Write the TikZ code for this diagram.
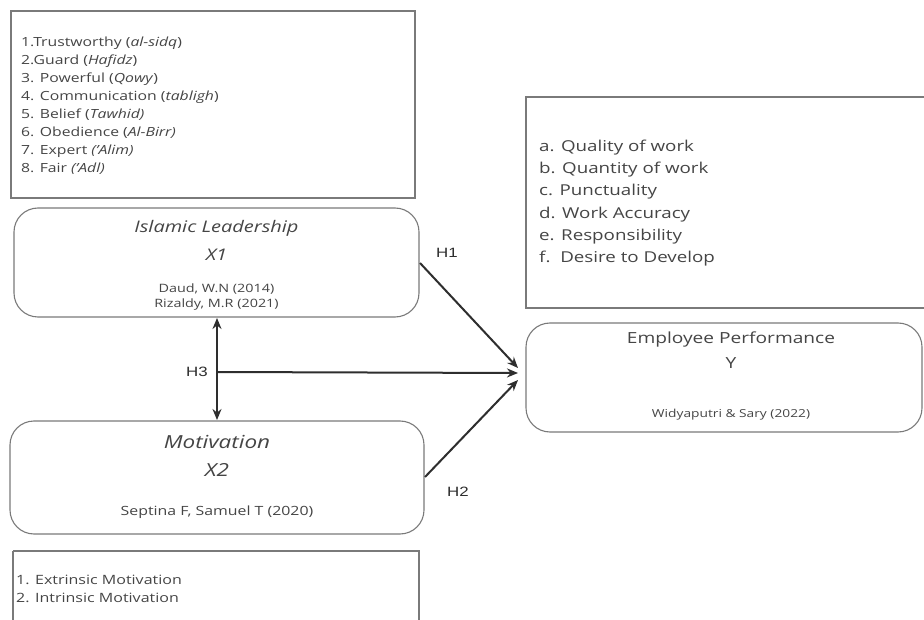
\documentclass[tikz,border=0pt]{standalone}
\usepackage{fontspec}
\setmainfont{Open Sans}[FakeStretch=1.25]
\newfontfamily\hfont{Liberation Sans}[FakeStretch=1.25]
\usetikzlibrary{arrows.meta}
\definecolor{txt}{HTML}{454545}
\definecolor{bord}{HTML}{7A7A7A}
\definecolor{arr}{HTML}{2E2E2E}
\begin{document}
\begin{tikzpicture}[x=1pt,y=-1pt,
  sqbox/.style={draw=bord,line width=1.2pt},
  rbox/.style={draw=bord,line width=1.1pt,rounded corners=24pt},
  lst/.style={anchor=west,align=left,inner sep=0pt,text=txt},
  ctr/.style={inner sep=0pt,text=txt},
  hlab/.style={inner sep=0pt,text=arr,font=\hfont\fontsize{13.5}{15}\selectfont},
  conn/.style={draw=arr,line width=2pt,-{Stealth[length=11pt,width=9pt]}},
  conn2/.style={draw=arr,line width=2pt,{Stealth[length=11pt,width=9pt]}-{Stealth[length=11pt,width=9pt]}}
]
\useasboundingbox (0,0) rectangle (924,620);
\fill[white] (0,0) rectangle (924,620);

% top-left indicator box
\draw[sqbox] (11,11) rectangle (415,198);
\node[lst,font=\fontsize{12.6}{18}\selectfont] (xlist) at (21,106) {1.Trustworthy (\textit{al-sidq})\\
2.Guard (\textit{Hafidz})\\
3. Powerful (\textit{Qowy})\\
4. Communication (\textit{tabligh})\\
5. Belief (\textit{Tawhid)}\\
6. Obedience (\textit{Al-Birr)}\\
7. Expert \textit{('Alim)}\\
8. Fair \textit{('Adl)}};

% Islamic leadership
\draw[rbox] (14,208) rectangle (419,317);
\node[ctr,font=\itshape\fontsize{16}{20}\selectfont] (ilt) at (216.5,228) {Islamic Leadership};
\node[ctr,font=\itshape\fontsize{16}{20}\selectfont] (ilx) at (216.5,255) {X1};
\node[ctr,font=\fontsize{11.5}{13}\selectfont] (ilr1) at (216.5,289) {Daud, W.N (2014)};
\node[ctr,font=\fontsize{11.5}{13}\selectfont] (ilr2) at (216.5,305) {Rizaldy, M.R (2021)};
\coordinate (ilS) at (217,318);
\coordinate (ilE) at (420,263);

% Motivation
\draw[rbox] (10,421) rectangle (424,534);
\node[ctr,font=\itshape\fontsize{18}{22}\selectfont] (mt) at (217,442) {Motivation};
\node[ctr,font=\itshape\fontsize{18}{22}\selectfont] (mx) at (217,470) {X2};
\node[ctr,font=\fontsize{12.7}{14}\selectfont] (mr) at (217,512) {Septina F, Samuel T (2020)};
\coordinate (mN) at (217,420);
\coordinate (mE) at (425,477);

% bottom-left indicator box
\draw[sqbox] (13,551) -- (13,625) (13,551) -- (419,551) -- (419,625);
\node[lst,font=\fontsize{12.8}{18}\selectfont] (mlist) at (16,589) {1. Extrinsic Motivation\\
2. Intrinsic Motivation};

% right indicator box
\draw[sqbox] (526,97) rectangle (930,308);
\node[lst,font=\fontsize{15}{22.2}\selectfont] (ylist) at (539,203) {a. Quality of work\\
b. Quantity of work\\
c. Punctuality\\
d. Work Accuracy\\
e. Responsibility\\
f.\ \ Desire to Develop};

% Employee performance
\draw[rbox] (526,323) rectangle (922,432);
\node[ctr,font=\fontsize{15.3}{17}\selectfont] (et) at (731,339) {Employee Performance};
\node[ctr,font=\fontsize{15.3}{17}\selectfont] (ey) at (731,363) {Y};
\node[ctr,font=\fontsize{11}{12}\selectfont] (er) at (731,415) {Widyaputri \& Sary (2022)};

% connectors
\coordinate (t1) at (518,368);
\coordinate (t3) at (518,373);
\coordinate (t2) at (518,380);
\coordinate (h3s) at (217,372);
\draw[conn] (ilE) -- (t1);
\draw[conn] (mE) -- (t2);
\draw[conn2] (ilS) -- (mN);
\draw[conn] (h3s) -- (t3);

\node[hlab] (h1) at (447,253) {H1};
\node[hlab] (h3) at (197,372) {H3};
\node[hlab] (h2) at (458,492) {H2};
\end{tikzpicture}
\end{document}
